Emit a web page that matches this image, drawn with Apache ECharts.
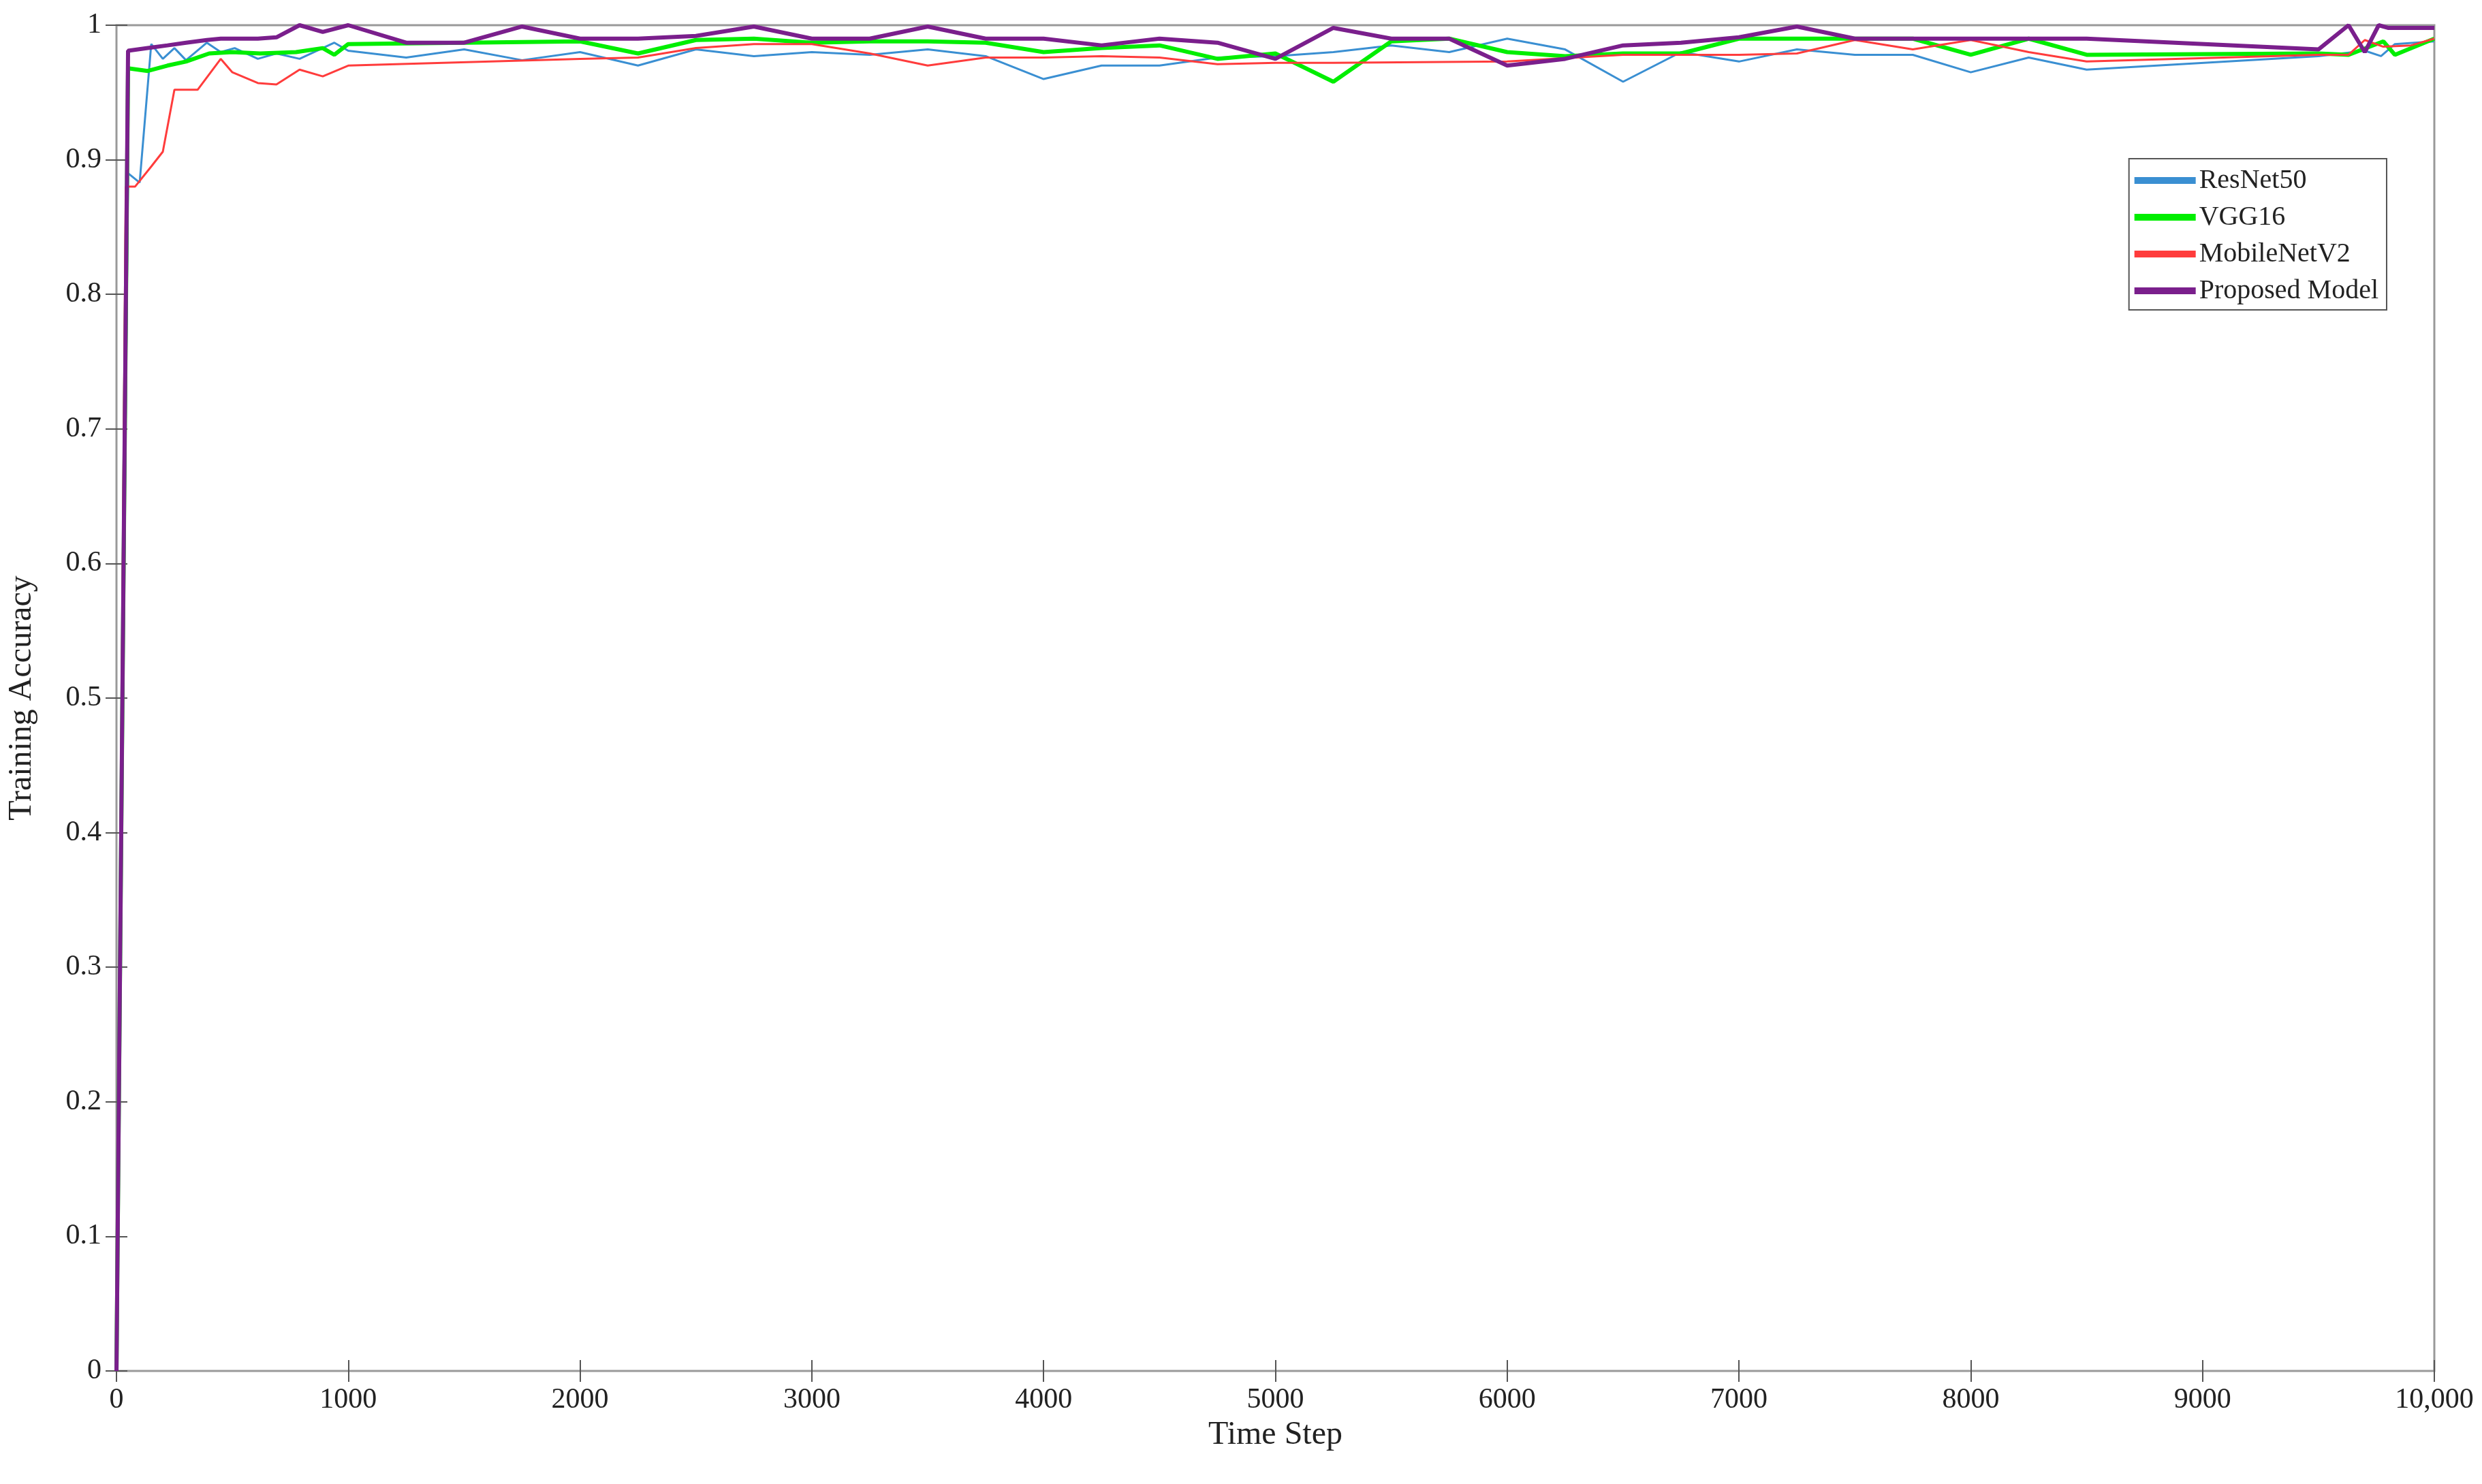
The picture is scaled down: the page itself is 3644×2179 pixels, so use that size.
<!DOCTYPE html>
<html>
<head>
<meta charset="utf-8">
<script src="https://cdn.jsdelivr.net/npm/echarts@6/dist/echarts.min.js"></script>
<style>html,body{margin:0;padding:0;background:#fff}#chart{width:3644px;height:2179px}</style>
</head>
<body>
<div id="chart"></div>
<script>
// data
const resnetX = [0,50,100,150,200,250,300,390,450,510,610,690,790,940,1000,1250,1500,1750,2000,2250,2500,2750,3000,3250,3500,3750,4000,4250,4500,4750,5000,5250,5500,5750,6000,6250,6500,6750,7000,7250,7500,7750,8000,8250,8500,9500,9700,9770,9830,10000];
const resnetY = [0,0.89,0.883,0.986,0.975,0.983,0.974,0.987,0.98,0.983,0.975,0.979,0.975,0.987,0.981,0.976,0.982,0.974,0.98,0.97,0.982,0.977,0.98,0.978,0.982,0.977,0.96,0.97,0.97,0.976,0.977,0.98,0.985,0.98,0.99,0.982,0.958,0.98,0.973,0.982,0.978,0.978,0.965,0.976,0.967,0.977,0.981,0.977,0.986,0.988];
const vggX = [0,50,135,220,300,400,500,620,775,890,940,1000,1500,2000,2250,2500,2750,3000,3250,3500,3750,4000,4250,4500,4750,5000,5250,5500,5750,6000,6250,6500,6750,7000,7250,7500,7750,8000,8250,8500,9500,9630,9780,9830,10000];
const vggY = [0,0.968,0.966,0.97,0.973,0.979,0.98,0.979,0.98,0.983,0.978,0.986,0.987,0.988,0.979,0.989,0.99,0.987,0.988,0.988,0.987,0.98,0.983,0.985,0.975,0.979,0.958,0.988,0.99,0.98,0.977,0.979,0.979,0.99,0.99,0.99,0.99,0.978,0.99,0.978,0.979,0.978,0.988,0.978,0.99];
const mobileX = [0,40,80,150,200,250,350,450,500,610,690,790,890,1000,2000,2250,2500,2750,3000,3250,3500,3750,4000,4250,4500,4750,5000,5250,6000,6500,6750,7000,7250,7500,7750,8000,8250,8500,9500,9630,9700,9780,9900,10000];
const mobileY = [0,0.88,0.88,0.895,0.906,0.952,0.952,0.975,0.965,0.957,0.956,0.967,0.962,0.97,0.975,0.976,0.983,0.986,0.986,0.979,0.97,0.976,0.976,0.977,0.976,0.971,0.972,0.972,0.973,0.978,0.978,0.978,0.979,0.989,0.982,0.989,0.98,0.973,0.978,0.978,0.989,0.984,0.985,0.99];
const proposedX = [0,50,135,220,300,390,450,510,610,690,790,890,1000,1250,1500,1750,2000,2250,2500,2750,3000,3250,3500,3750,4000,4250,4500,4750,5000,5250,5500,5750,6000,6250,6500,6750,7000,7250,7500,8000,8500,9500,9630,9700,9760,9800,10000];
const proposedY = [0,0.981,0.983,0.985,0.987,0.989,0.99,0.99,0.99,0.991,1.0,0.995,1.0,0.987,0.987,0.999,0.99,0.99,0.992,0.999,0.99,0.99,0.999,0.99,0.99,0.985,0.99,0.987,0.975,0.998,0.99,0.99,0.97,0.975,0.985,0.987,0.991,0.999,0.99,0.99,0.99,0.982,1.0,0.98,1.0,0.998,0.998];
const yTicks = [0,0.1,0.2,0.3,0.4,0.5,0.6,0.7,0.8,0.9,1];

const zip = (xs, ys) => xs.map((x, i) => [x, ys[i]]);
const font = 'Liberation Serif';

const chart = echarts.init(document.getElementById('chart'));
const tickStyle = { inside: true, length: 16, lineStyle: { color: '#555', width: 2 } };
chart.setOption({
    animation: false,
    grid: { left: 168, right: 70, top: 37, bottom: 166, show: true, borderColor: '#999', borderWidth: 3 },
    legend: {
        right: 140, top: 233, orient: 'vertical', itemWidth: 90, itemHeight: 10, itemGap: 14,
        backgroundColor: '#fff', borderColor: '#555', borderWidth: 2, padding: [12, 12, 8, 8],
        textStyle: { fontFamily: font, fontSize: 40, color: '#222' },
        icon: 'rect'
    },
    xAxis: [{
        type: 'value', min: 0, max: 10000, interval: 1000,
        name: 'Time Step', nameLocation: 'middle', nameGap: 70,
        nameTextStyle: { fontFamily: font, fontSize: 48, color: '#222' },
        axisLine: { show: false },
        axisTick: tickStyle,
        splitLine: { show: false },
        axisLabel: { fontFamily: font, fontSize: 42, color: '#222', margin: 22,
            formatter: v => v === 10000 ? '10,000' : String(v) }
    }, {
        type: 'value', min: 0, max: 10000, interval: 1000, position: 'top',
        axisLine: { show: false }, axisTick: tickStyle, axisLabel: { show: false }, splitLine: { show: false }
    }],
    yAxis: [{
        type: 'value', min: 0, max: 1, interval: 0.1,
        name: 'Training Accuracy', nameLocation: 'middle', nameGap: 115,
        nameTextStyle: { fontFamily: font, fontSize: 48, color: '#222' },
        axisLine: { show: false },
        axisTick: tickStyle,
        splitLine: { show: false },
        axisLabel: { fontFamily: font, fontSize: 42, color: '#222', margin: 22,
            formatter: v => yTicks.includes(+v.toFixed(1)) ? String(+v.toFixed(1)) : '' }
    }, {
        type: 'value', min: 0, max: 1, interval: 0.1, position: 'right',
        axisLine: { show: false }, axisTick: tickStyle, axisLabel: { show: false }, splitLine: { show: false }
    }],
    series: [
        { name: 'ResNet50', type: 'line', data: zip(resnetX, resnetY), symbol: 'none', lineStyle: { color: '#3a8fd2', width: 3 }, itemStyle: { color: '#3a8fd2' } },
        { name: 'VGG16', type: 'line', data: zip(vggX, vggY), symbol: 'none', lineStyle: { color: '#00ee00', width: 6 }, itemStyle: { color: '#00ee00' } },
        { name: 'MobileNetV2', type: 'line', data: zip(mobileX, mobileY), symbol: 'none', lineStyle: { color: '#ff3c3c', width: 3 }, itemStyle: { color: '#ff3c3c' } },
        { name: 'Proposed Model', type: 'line', data: zip(proposedX, proposedY), symbol: 'none', lineStyle: { color: '#7a1f8c', width: 6 }, itemStyle: { color: '#7a1f8c' } }
    ]
});
</script>
</body>
</html>
